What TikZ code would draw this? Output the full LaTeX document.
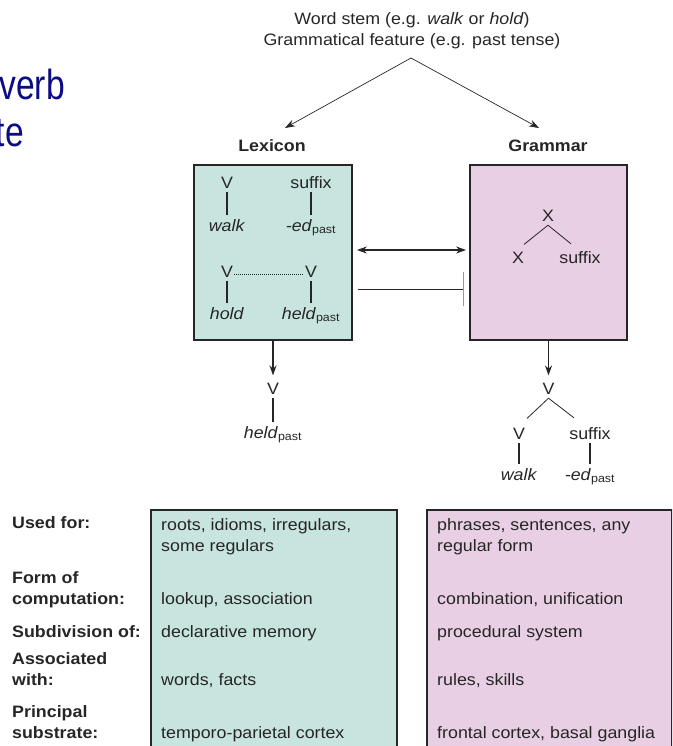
\documentclass[tikz,border=0pt]{standalone}
\usepackage{fontspec}
\setmainfont[FakeStretch=1.08]{Liberation Sans}
\newfontfamily\titlefont[FakeStretch=0.8]{Liberation Sans}
\usetikzlibrary{arrows.meta,positioning}
\definecolor{lexfill}{HTML}{C8E4DE}
\definecolor{gramfill}{HTML}{E8CFE4}
\definecolor{ink}{HTML}{262626}
\definecolor{slideblue}{HTML}{0B0B86}
\newcommand{\pastform}[1]{\textit{#1}\textsubscript{past}}

\begin{document}
\begin{tikzpicture}[x=1pt,y=-1pt,
  every node/.style={font=\fontsize{16.5}{21}\selectfont,text=ink,inner sep=1pt},
  box/.style={draw=ink,line width=1.8pt},
  head/.style={font=\bfseries\fontsize{16.5}{21}\selectfont,anchor=base},
  word/.style={anchor=base,inner sep=4pt},
  stem/.style={line width=1.8pt,draw=ink},
  branch/.style={line width=0.8pt,draw=ink},
  dots/.style={line width=1pt,dash pattern=on 1pt off 1pt,draw=ink},
  arrow/.style={-{Stealth[length=10pt,width=7pt]},line width=1.8pt,draw=ink,shorten >=3pt},
  feed/.style={-{Stealth[length=10pt,width=7pt]},line width=0.7pt,draw=ink},
  both/.style={{Stealth[length=10pt,width=7pt]}-{Stealth[length=10pt,width=7pt]},line width=1.2pt,draw=ink},
  block/.style={-{Bar[width=34pt,line width=1.2pt,color=gray!80]},line width=0.9pt,draw=ink},
  rowlabel/.style={font=\bfseries\fontsize{16.5}{21}\selectfont,anchor=base west,align=left},
  cell/.style={anchor=base west,align=left}
]
\useasboundingbox (0,0) rectangle (672,746);
\clip (0,0) rectangle (672,746);

% cut-off slide title
\node[anchor=base east,font=\titlefont\fontsize{42}{45}\selectfont,text=slideblue] (title) at (66,100) {verb};
\node[anchor=base east,font=\titlefont\fontsize{42}{45}\selectfont,text=slideblue] (titletail) at (25,147) {te};

% input and the two routes
\node[align=center,anchor=north] (input) at (412,11) {Word stem (e.g. \textit{walk} or \textit{hold})\\Grammatical feature (e.g. past tense)};
\coordinate (apex) at (411,58);
\coordinate (lexin) at (285,128);
\coordinate (gramin) at (539,128);
\draw[feed] (apex) -- (lexin);
\draw[feed] (apex) -- (gramin);

\node[head] (lexhead) at (272,152) {Lexicon};
\node[head] (gramhead) at (548,152) {Grammar};

\node[box,fill=lexfill,minimum width=158pt,minimum height=175pt] (lex) at (273,252.5) {};
\node[box,fill=gramfill,minimum width=157pt,minimum height=175pt] (gram) at (548.5,252.5) {};

% stored forms
\node[word] (lv) at (227,188) {V};
\node[word] (lwalk) at (227,231) {\textit{walk}};
\node[word] (lsuf) at (311,188) {suffix};
\node[word] (led) at (311,231) {\pastform{-ed}};
\node[word] (lv2) at (227,277) {V};
\node[word] (lv3) at (311,277) {V};
\node[word] (lhold) at (227,319) {\textit{hold}};
\node[word] (lheld) at (311,319) {\pastform{held}};
\draw[stem] (lv) -- (lwalk);
\draw[stem] (lsuf) -- (led);
\draw[stem] (lv2) -- (lhold);
\draw[stem] (lv3) -- (lheld);
\draw[dots] ([xshift=-3pt,yshift=3pt]lv2.base east) -- ([xshift=3pt,yshift=3pt]lv3.base west);

% rule
\node[word] (gx) at (548,221) {X};
\node[word] (gxl) at (518,263) {X};
\node[word] (gsuf) at (580,263) {suffix};
\draw[branch] (gx.south) -- ([xshift=6pt,yshift=3pt]gxl.north);
\draw[branch] (gx.south) -- ([xshift=-9pt,yshift=3pt]gsuf.north);

% interaction
\draw[both] ([xshift=4pt,yshift=2.5pt]lex.east) -- ([xshift=-3pt,yshift=2.5pt]gram.west);
\draw[block] ([xshift=5pt,yshift=-36.5pt]lex.east) -- ([xshift=-5pt,yshift=-36.5pt]gram.west);

% outputs
\node[word] (lout) at (273,394) {V};
\node[word] (lheldout) at (273,438) {\pastform{held}};
\draw[arrow] (lex.south) -- (lout);
\draw[stem] (lout) -- (lheldout);

\node[word] (gout) at (548.5,394) {V};
\node[word] (goutv) at (519,439) {V};
\node[word] (goutsuf) at (590,439) {suffix};
\node[word] (gwalk) at (519,480) {\textit{walk}};
\node[word] (ged) at (590,480) {\pastform{-ed}};
\draw[arrow] (gram.south) -- (gout);
\draw[branch] (gout.south) -- ([xshift=8pt,yshift=5pt]goutv.north);
\draw[branch] (gout.south) -- ([xshift=-16pt,yshift=5pt]goutsuf.north);
\draw[stem] (goutv) -- (gwalk);
\draw[stem] (goutsuf) -- (ged);

% comparison table
\node[box,fill=lexfill,anchor=north west,minimum width=246pt,minimum height=260pt] (lexrows) at (150,509) {};
\node[box,fill=gramfill,anchor=north west,minimum width=245pt,minimum height=260pt] (gramrows) at (426,509) {};

\node[rowlabel] (usedfor) at (11,528) {Used for:};
\node[rowlabel] (formof) at (11,604) {Form of\\computation:};
\node[rowlabel] (subdiv) at (11,637) {Subdivision of:};
\node[rowlabel] (assoc) at (11,685) {Associated\\with:};
\node[rowlabel] (substr) at (11,738) {Principal\\substrate:};

\node[cell] (lexused) at (160,551) {roots, idioms, irregulars,\\some regulars};
\node[cell] (lexform) at (160,604) {lookup, association};
\node[cell] (lexsub) at (160,637) {declarative memory};
\node[cell] (lexassoc) at (160,685) {words, facts};
\node[cell] (lexsubstr) at (160,738) {temporo-parietal cortex};

\node[cell] (gramused) at (436,551) {phrases, sentences, any\\regular form};
\node[cell] (gramform) at (436,604) {combination, unification};
\node[cell] (gramsub) at (436,637) {procedural system};
\node[cell] (gramassoc) at (436,685) {rules, skills};
\node[cell] (gramsubstr) at (436,738) {frontal cortex, basal ganglia};
\end{tikzpicture}
\end{document}
